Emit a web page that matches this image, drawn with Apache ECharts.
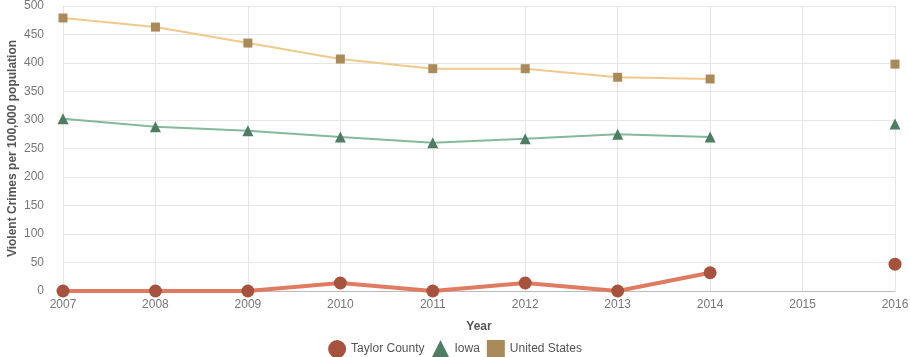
<!DOCTYPE html>
<html>
<head>
<meta charset="utf-8">
<script src="https://cdn.jsdelivr.net/npm/echarts@6/dist/echarts.min.js"></script>
<style>
  html, body { margin: 0; padding: 0; background: #fff; }
  #chart { width: 910px; height: 357px; }
</style>
</head>
<body>
<div id="chart"></div>
<script>
// Violent crime rate per 100,000 population, by year
const years = ['2007', '2008', '2009', '2010', '2011', '2012', '2013', '2014', '2015', '2016'];
const taylorCounty = [0, 0, 0, 14, 0, 14, 0, 32, null, 47];
const iowa = [302, 288, 281, 270, 260, 267, 275, 270, null, 293];
const unitedStates = [479, 463, 435, 407, 390, 390, 375, 372, null, 398];
const yTicks = { min: 0, max: 500, interval: 50 };

const chart = echarts.init(document.getElementById('chart'));

const fontFamily = '"Liberation Sans", Arial, sans-serif';

chart.setOption({
  animation: false,
  textStyle: { fontFamily: fontFamily },
  grid: { left: 63, right: 15, top: 6, bottom: 66, outerBoundsMode: 'none', containLabel: false },
  legend: {
    top: 335,
    left: 'center',
    itemWidth: 18,
    itemHeight: 18,
    itemGap: 7,
    textStyle: { color: '#555', fontSize: 12, fontFamily: fontFamily },
    data: [
      { name: 'Taylor County', icon: 'circle' },
      { name: 'Iowa', icon: 'triangle' },
      { name: 'United States', icon: 'rect' }
    ]
  },
  xAxis: {
    type: 'category',
    data: years,
    boundaryGap: false,
    name: 'Year',
    nameLocation: 'middle',
    nameGap: 30,
    nameMoveOverlap: false,
    nameTextStyle: { color: '#555', fontWeight: 'bold', fontSize: 12 },
    axisLine: { lineStyle: { color: '#bbb' } },
    axisTick: { show: false },
    axisLabel: { color: '#777', fontSize: 12, margin: 8 },
    splitLine: { show: true, lineStyle: { color: '#e6e6e6' } }
  },
  yAxis: {
    type: 'value',
    min: yTicks.min,
    max: yTicks.max,
    interval: yTicks.interval,
    name: 'Violent Crimes per 100,000 population',
    nameLocation: 'middle',
    nameGap: 44,
    nameMoveOverlap: false,
    nameTextStyle: { color: '#555', fontWeight: 'bold', fontSize: 12 },
    axisLine: { show: false },
    axisTick: { show: false },
    axisLabel: { color: '#777', fontSize: 12, margin: 19 },
    splitLine: { lineStyle: { color: '#e6e6e6' } }
  },
  series: [
    {
      name: 'Taylor County',
      type: 'line',
      data: taylorCounty,
      symbol: 'circle',
      symbolSize: 13,
      connectNulls: false,
      lineStyle: { color: '#e07b62', width: 4 },
      itemStyle: { color: '#a5533f' },
      z: 3
    },
    {
      name: 'Iowa',
      type: 'line',
      data: iowa,
      symbol: 'triangle',
      symbolSize: 11,
      connectNulls: false,
      lineStyle: { color: '#85b99c', width: 2 },
      itemStyle: { color: '#4f7d63' },
      z: 2
    },
    {
      name: 'United States',
      type: 'line',
      data: unitedStates,
      symbol: 'rect',
      symbolSize: 9,
      connectNulls: false,
      lineStyle: { color: '#f1c98c', width: 2 },
      itemStyle: { color: '#a98a5b' },
      z: 2
    }
  ]
});
</script>
</body>
</html>
